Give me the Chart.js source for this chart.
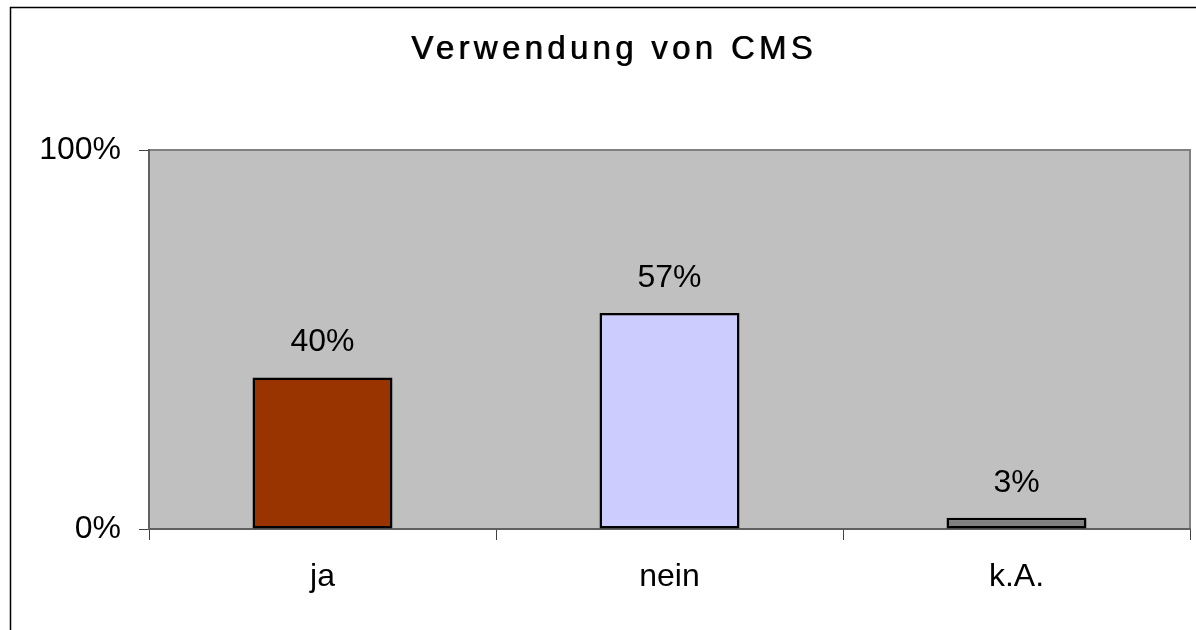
<!DOCTYPE html>
<html>
<head>
<meta charset="utf-8">
<script src="https://cdn.jsdelivr.net/npm/chart.js@4/dist/chart.umd.min.js"></script>
<style>
html,body{margin:0;padding:0;background:#fff;overflow:hidden;}
#wrap{position:relative;width:1196px;height:630px;}
</style>
</head>
<body>
<div id="wrap"><canvas id="c"></canvas></div>
<script>
const categories = ['ja', 'nein', 'k.A.'];
const values = [40, 57, 3];
const barColors = ['#993300', '#CCCCFF', '#808080'];
const yTickValues = [0, 100];
const titleText = 'Verwendung von CMS';

const FONT = '"Liberation Sans", Arial, sans-serif';

const decor = {
  id: 'decor',
  beforeDraw(chart) {
    const ctx = chart.ctx, a = chart.chartArea;
    const tb = chart.titleBlock;
    if (tb && !tb._spaced) {
      const orig = tb.draw.bind(tb);
      tb.draw = function () {
        const c = chart.ctx;
        c.save();
        c.letterSpacing = '4.3px';
        c.shadowColor = 'rgba(0,0,0,0.85)';
        c.shadowOffsetX = 0.8;
        c.shadowOffsetY = 0;
        c.shadowBlur = 0;
        orig();
        c.restore();
      };
      tb._spaced = true;
    }
    ctx.save();
    ctx.fillStyle = '#fff';
    ctx.fillRect(0, 0, chart.width, chart.height);
    ctx.strokeStyle = '#000';
    ctx.lineWidth = 1.5;
    ctx.strokeRect(10.5, 7.5, chart.width + 40, chart.height + 40);
    ctx.fillStyle = '#C0C0C0';
    ctx.fillRect(a.left, a.top, a.right - a.left, a.bottom - a.top);
    ctx.strokeStyle = '#808080';
    ctx.lineWidth = 2;
    ctx.beginPath();
    ctx.moveTo(a.left, a.top);
    ctx.lineTo(a.right, a.top);
    ctx.lineTo(a.right, a.bottom);
    ctx.stroke();
    ctx.restore();
  },
  afterDatasetsDraw(chart) {
    const ctx = chart.ctx;
    const meta = chart.getDatasetMeta(0);
    ctx.save();
    ctx.font = '32px ' + FONT;
    ctx.fillStyle = '#000';
    ctx.textAlign = 'center';
    ctx.textBaseline = 'alphabetic';
    meta.data.forEach((bar, i) => {
      ctx.fillText(values[i] + '%', bar.x, bar.y - 26);
    });
    ctx.restore();
  }
};

new Chart(document.getElementById('c'), {
  type: 'bar',
  data: {
    labels: categories,
    datasets: [{
      data: values,
      backgroundColor: barColors,
      borderColor: '#000',
      borderWidth: 2.5,
      borderSkipped: false,
      barPercentage: 0.4035,
      categoryPercentage: 1
    }]
  },
  options: {
    responsive: true,
    maintainAspectRatio: false,
    animation: false,
    devicePixelRatio: 1,
    layout: { padding: { left: 38, right: 6, top: 0, bottom: 0 } },
    plugins: {
      legend: { display: false },
      tooltip: { enabled: false },
      title: {
        display: true,
        text: titleText,
        color: '#000',
        font: { family: FONT, size: 33, weight: 'normal', lineHeight: 1.2 },
        padding: { top: 30.5, bottom: 79.9 }
      }
    },
    scales: {
      x: {
        grid: { display: true, drawOnChartArea: false, drawTicks: true, tickLength: 11, color: '#404040', lineWidth: 1, offset: true },
        border: { display: true, color: '#606060', width: 2 },
        ticks: { color: '#000', padding: 18, font: { family: FONT, size: 32 } },
        afterFit(scale) { scale.height = 101; }
      },
      y: {
        min: 0,
        max: 100,
        afterBuildTicks(scale) { scale.ticks = yTickValues.map(v => ({ value: v })); },
        grid: { display: true, drawOnChartArea: false, drawTicks: true, tickLength: 10, color: '#404040', lineWidth: 1 },
        border: { display: true, color: '#606060', width: 2 },
        ticks: { color: '#000', padding: 18, font: { family: FONT, size: 32 }, callback: v => v + '%' },
        afterFit(scale) { scale.width = 111; }
      }
    }
  },
  plugins: [decor]
});
</script>
</body>
</html>
